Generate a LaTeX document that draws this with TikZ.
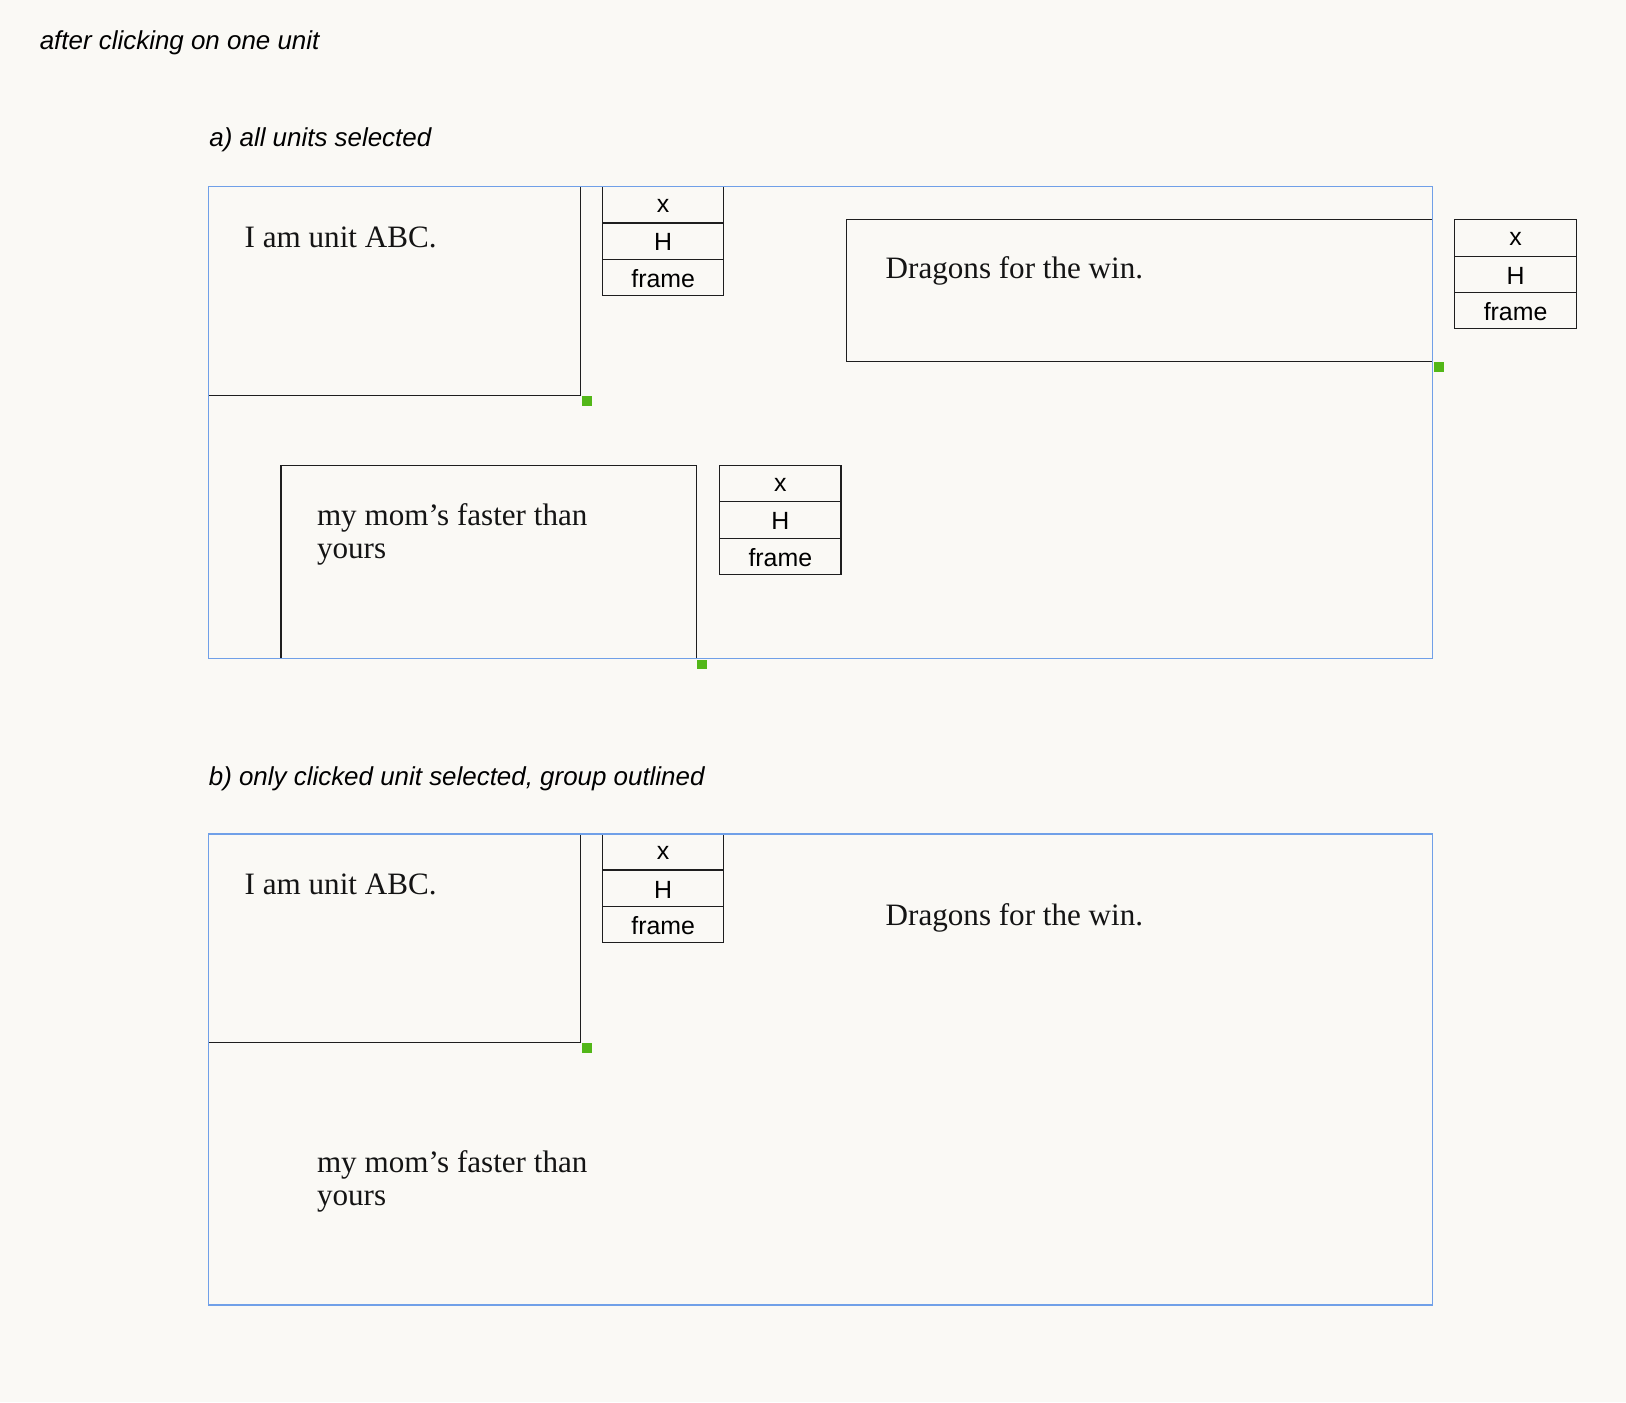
\documentclass[tikz,border=0pt]{standalone}
\usepackage{fontspec}
\setmainfont{Liberation Serif}
\newfontfamily\uisans{Liberation Sans}
\definecolor{bgc}{RGB}{250,249,245}
\definecolor{linec}{RGB}{30,30,30}
\definecolor{bluec}{RGB}{112,160,232}
\definecolor{greenc}{RGB}{82,183,24}
\definecolor{textc}{RGB}{20,20,20}
\tikzset{
  titletext/.style={font=\uisans\itshape\fontsize{12.5}{15}\selectfont, anchor=base west, inner sep=0pt, text=black},
  unittext/.style={font=\fontsize{15}{16}\selectfont, anchor=base west, inner sep=0pt, text=textc},
  unitbox/.style={draw=linec, line width=0.55pt},
  grpbox/.style={draw=bluec, line width=0.8pt},
  handle/.style={fill=greenc},
  btn/.style={draw=linec, line width=0.55pt, minimum width=58.5pt, minimum height=17.5pt, inner sep=0pt,
    font=\uisans\fontsize{12}{14}\selectfont, text=black, text height=9.5pt, text depth=0pt},
  btnx/.style={btn, text height=7.5pt}
}
\begin{document}
\begin{tikzpicture}[x=0.5pt,y=-0.5pt]
\useasboundingbox (0,0) rectangle (1568,1352);
\fill[bgc] (0,0) rectangle (1568,1352);

% titles
\node[titletext] (t0) at (38,47.6) {after clicking on one unit};
\node[titletext] (ta) at (201.5,141.4) {a) all units selected};
\node[titletext] (tb) at (201,757) {b) only clicked unit selected, group outlined};

% ---------- panel a ----------
\draw[unitbox] (201,180) rectangle (560,381);
\node[unittext] (abcA) at (235.6,238.5) {I am unit ABC.};
\node[btnx] (abcAx) at (639.5,197.5) {x};
\node[btn] (abcAh) at (639.5,232.5) {H};
\node[btn] (abcAf) at (639.5,267.5) {frame};

\draw[unitbox] (816.5,212) rectangle (1381.5,349);
\node[unittext] (drA) at (853.7,268.7) {Dragons for the win.};
\node[btnx] (drAx) at (1461.5,229.5) {x};
\node[btn] (drAh) at (1461.5,264.5) {H};
\node[btn] (drAf) at (1461.5,299.5) {frame};

\draw[unitbox] (271,449) rectangle (671.5,635);
\node[unittext] (momA1) at (305.3,507) {my mom’s faster than};
\node[unittext] (momA2) at (305.3,538.5) {yours};
\node[btnx] (momAx) at (752.5,466.5) {x};
\node[btn] (momAh) at (752.5,501.5) {H};
\node[btn] (momAf) at (752.5,536.5) {frame};

\draw[grpbox] (201,180) rectangle (1381.5,635);
\fill[handle] (561,382) rectangle ++(9.5,9.5);
\fill[handle] (1382.5,349.5) rectangle ++(9.5,9.5);
\fill[handle] (672.5,636) rectangle ++(9.5,9.5);

% ---------- panel b ----------
\draw[unitbox] (201,804) rectangle (560,1005);
\node[unittext] (abcB) at (235.6,862.5) {I am unit ABC.};
\node[btnx] (abcBx) at (639.5,821.5) {x};
\node[btn] (abcBh) at (639.5,856.5) {H};
\node[btn] (abcBf) at (639.5,891.5) {frame};

\node[unittext] (drB) at (853.7,892.7) {Dragons for the win.};
\node[unittext] (momB1) at (305.3,1131) {my mom’s faster than};
\node[unittext] (momB2) at (305.3,1162.5) {yours};

\draw[grpbox] (201,804) rectangle (1381.5,1258.5);
\fill[handle] (561,1006) rectangle ++(9.5,9.5);
\end{tikzpicture}
\end{document}
